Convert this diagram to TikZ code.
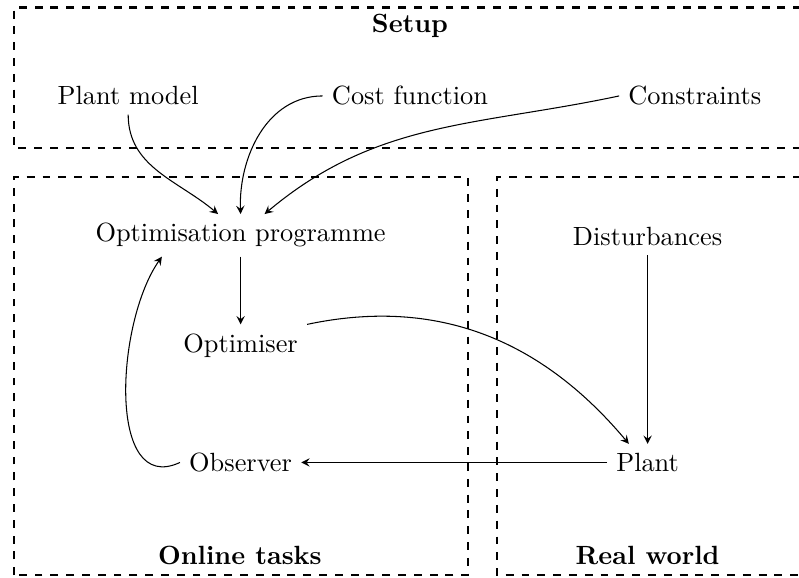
\documentclass[tikz,border=0pt]{standalone}
\usetikzlibrary{arrows}
\begin{document}
\begin{tikzpicture}[>=stealth]
\useasboundingbox (0,0) rectangle (10.66,7.70);
\draw[dashed,thick] (10.9,7.60) -- (0.187,7.60) -- (0.187,5.72) -- (10.9,5.72);
\draw[dashed,thick] (0.187,0.027) rectangle (6.24,5.34);
\draw[dashed,thick] (10.9,5.34) -- (6.63,5.34) -- (6.63,0.027) -- (10.9,0.027);
\node (setup) at (5.47,7.36) {\textbf{Setup}};
\node (online) at (3.20,0.29) {\textbf{Online tasks}};
\node (real) at (8.64,0.29) {\textbf{Real world}};
\node (model) at (1.71,6.42) {Plant model};
\node (cost) at (5.47,6.42) {Cost function};
\node (constr) at (9.27,6.42) {Constraints};
\node (prog) at (3.21,4.56) {Optimisation programme};
\node (opt) at (3.21,3.09) {Optimiser};
\node (obs) at (3.21,1.53) {Observer};
\node (dist) at (8.64,4.54) {Disturbances};
\node (plant) at (8.64,1.53) {Plant};
\draw[->] (model.south) to[out=-90,in=140] ([xshift=-0.3cm]prog.north);
\draw[->] (cost.west) to[out=180,in=92] (prog.north);
\draw[->] (constr.west) to[out=192,in=40] ([xshift=0.32cm]prog.north);
\draw[->] (prog.south) -- (opt.north);
\draw[->] (opt.north east) to[out=12,in=130] ([xshift=-0.25cm]plant.north);
\draw[->] (dist.south) -- (plant.north);
\draw[->] (plant.west) -- (obs.east);
\draw[->] (obs.west) to[out=205,in=235] ([xshift=-1.05cm]prog.south);
\end{tikzpicture}
\end{document}
